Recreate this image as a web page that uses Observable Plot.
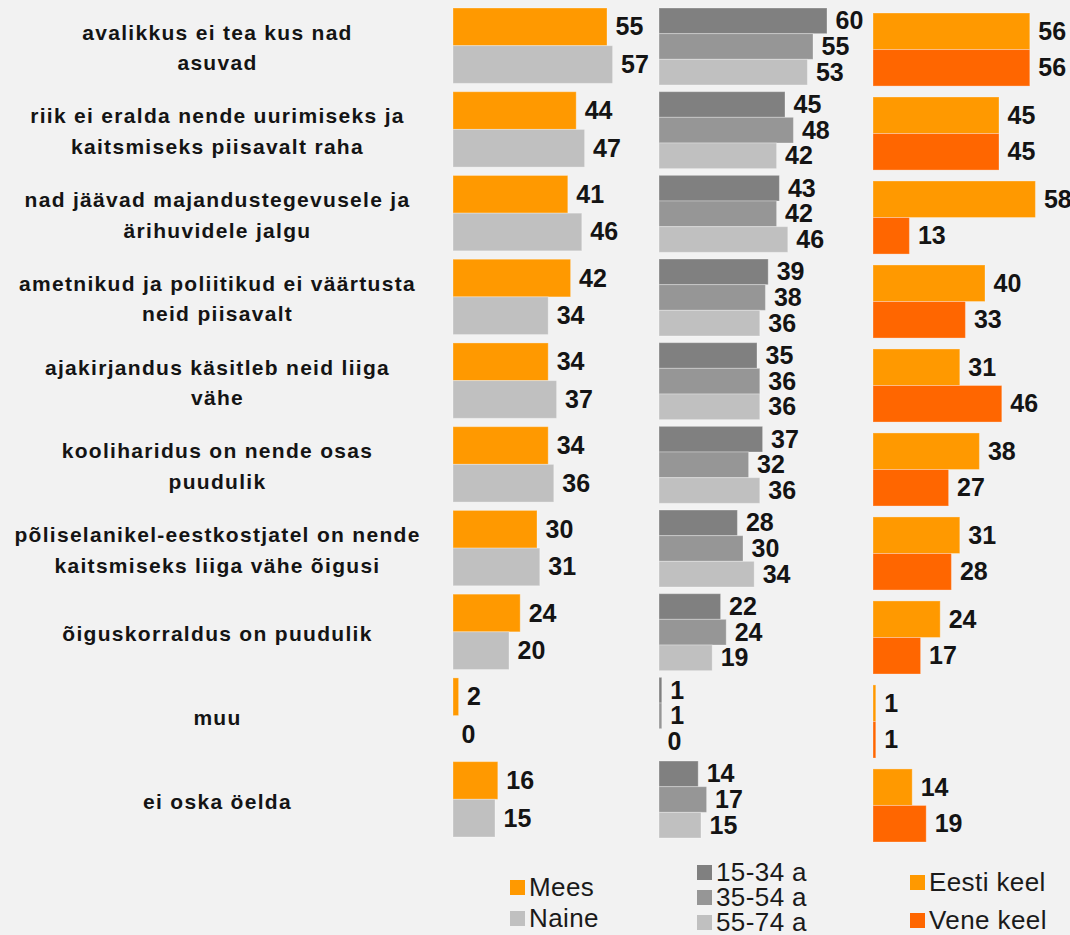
<!DOCTYPE html>
<html>
<head>
<meta charset="utf-8">
<script src="https://cdn.jsdelivr.net/npm/d3@7"></script>
<script src="https://cdn.jsdelivr.net/npm/@observablehq/plot@0.6"></script>
<style>
  html, body { margin: 0; padding: 0; background: #f2f2f2; }
  #wrap { position: relative; width: 1070px; height: 935px; background: #f2f2f2; overflow: hidden; font-family: "Liberation Sans", Arial, sans-serif; }
  .panel { position: absolute; }
  .lbl text { letter-spacing: 1.3px; }
  .leg { position: absolute; display: flex; align-items: center; font-size: 26px; letter-spacing: 0.4px; color: #1a1a1a; white-space: nowrap; line-height: 24px; }
  .leg i { display: inline-block; width: 15px; height: 15px; margin-right: 4px; }
</style>
</head>
<body>
<div id="wrap"></div>
<script>
const categories = [
  "avalikkus ei tea kus nad\nasuvad",
  "riik ei eralda nende uurimiseks ja\nkaitsmiseks piisavalt raha",
  "nad jäävad majandustegevusele ja\närihuvidele jalgu",
  "ametnikud ja poliitikud ei väärtusta\nneid piisavalt",
  "ajakirjandus käsitleb neid liiga\nvähe",
  "kooliharidus on nende osas\npuudulik",
  "põliselanikel-eestkostjatel on nende\nkaitsmiseks liiga vähe õigusi",
  "õiguskorraldus on puudulik",
  "muu",
  "ei oska öelda"
];

const genderSeries = ["Mees", "Naine"];
const genderMees  = [55, 44, 41, 42, 34, 34, 30, 24, 2, 16];
const genderNaine = [57, 47, 46, 34, 37, 36, 31, 20, 0, 15];
const genderColors = ["#FF9900", "#C0C0C0"];

const ageSeries = ["15-34 a", "35-54 a", "55-74 a"];
const age1534 = [60, 45, 43, 39, 35, 37, 28, 22, 1, 14];
const age3554 = [55, 48, 42, 38, 36, 32, 30, 24, 1, 17];
const age5574 = [53, 42, 46, 36, 36, 36, 34, 19, 0, 15];
const ageColors = ["#808080", "#969696", "#C0C0C0"];

const langSeries = ["Eesti keel", "Vene keel"];
const langEesti = [56, 45, 58, 40, 31, 38, 31, 24, 1, 14];
const langVene  = [56, 45, 13, 33, 46, 27, 28, 17, 1, 19];
const langColors = ["#FF9900", "#FF6600"];

const wrap = document.getElementById("wrap");
const FONT = "'Liberation Sans', Arial, sans-serif";
const PX_PER_UNIT = 2.8;

function place(el, left, top, cls) {
  const d = document.createElement("div");
  d.className = "panel" + (cls ? " " + cls : "");
  d.style.left = left + "px";
  d.style.top = top + "px";
  d.appendChild(el);
  wrap.appendChild(d);
}

function panel(series, arrays, colors, {left, top, width, height, padding}) {
  const rows = categories.flatMap((c, i) => series.map((s, j) => ({cat: c, s, v: arrays[j][i]})));
  const chart = Plot.plot({
    width, height,
    marginTop: 0, marginBottom: 0, marginLeft: 0, marginRight: 0,
    style: {background: "transparent", overflow: "visible", fontFamily: FONT},
    x: {domain: [0, width / PX_PER_UNIT], axis: null},
    y: {domain: series, paddingInner: 0, paddingOuter: 0, round: false, axis: null},
    fy: {domain: categories, paddingInner: padding, paddingOuter: 0, round: false, axis: null},
    color: {domain: series, range: colors},
    facet: {data: rows, y: "cat", marginTop: 0, marginBottom: 0},
    marks: [
      Plot.barX(rows, {x: "v", y: "s", fill: "s", stroke: "#ffffff", strokeOpacity: 0.3, strokeWidth: 1}),
      Plot.text(rows, {x: "v", y: "s", text: d => String(d.v), dx: 8, textAnchor: "start",
        fontSize: 25, fontWeight: "bold", fill: "#141414"})
    ]
  });
  place(chart, left, top);
}

// category labels (same band layout as the gender panel)
const labelChart = Plot.plot({
  width: 434, height: 829,
  marginTop: 0, marginBottom: 0, marginLeft: 0, marginRight: 0,
  style: {background: "transparent", overflow: "visible", fontFamily: FONT},
  y: {type: "band", domain: categories, paddingInner: 0.1, paddingOuter: 0, round: false, axis: null},
  marks: [
    Plot.text(categories, {y: d => d, text: d => d, frameAnchor: "middle", fontSize: 21,
      fontWeight: "bold", lineHeight: 1.45, fill: "#141414"})
  ]
});
place(labelChart, 0, 7, "lbl");

panel(genderSeries, [genderMees, genderNaine], genderColors, {left: 453, top: 8, width: 205, height: 829, padding: 0.1});
panel(ageSeries, [age1534, age3554, age5574], ageColors, {left: 659, top: 8, width: 214, height: 830, padding: 0.08});
panel(langSeries, [langEesti, langVene], langColors, {left: 873, top: 13, width: 197, height: 829, padding: 0.13});

// legends
function legend(items, colors, left, tops) {
  items.forEach((t, i) => {
    const d = document.createElement("div");
    d.className = "leg";
    d.style.left = left + "px";
    d.style.top = (tops[i] - 12) + "px";
    d.style.height = "24px";
    const sw = document.createElement("i");
    sw.style.background = colors[i];
    d.appendChild(sw);
    d.appendChild(document.createTextNode(t));
    wrap.appendChild(d);
  });
}
legend(genderSeries, genderColors, 510, [887, 918]);
legend(ageSeries, ageColors, 697, [872, 897, 922]);
legend(langSeries, langColors, 910, [882, 920]);
</script>
</body>
</html>
